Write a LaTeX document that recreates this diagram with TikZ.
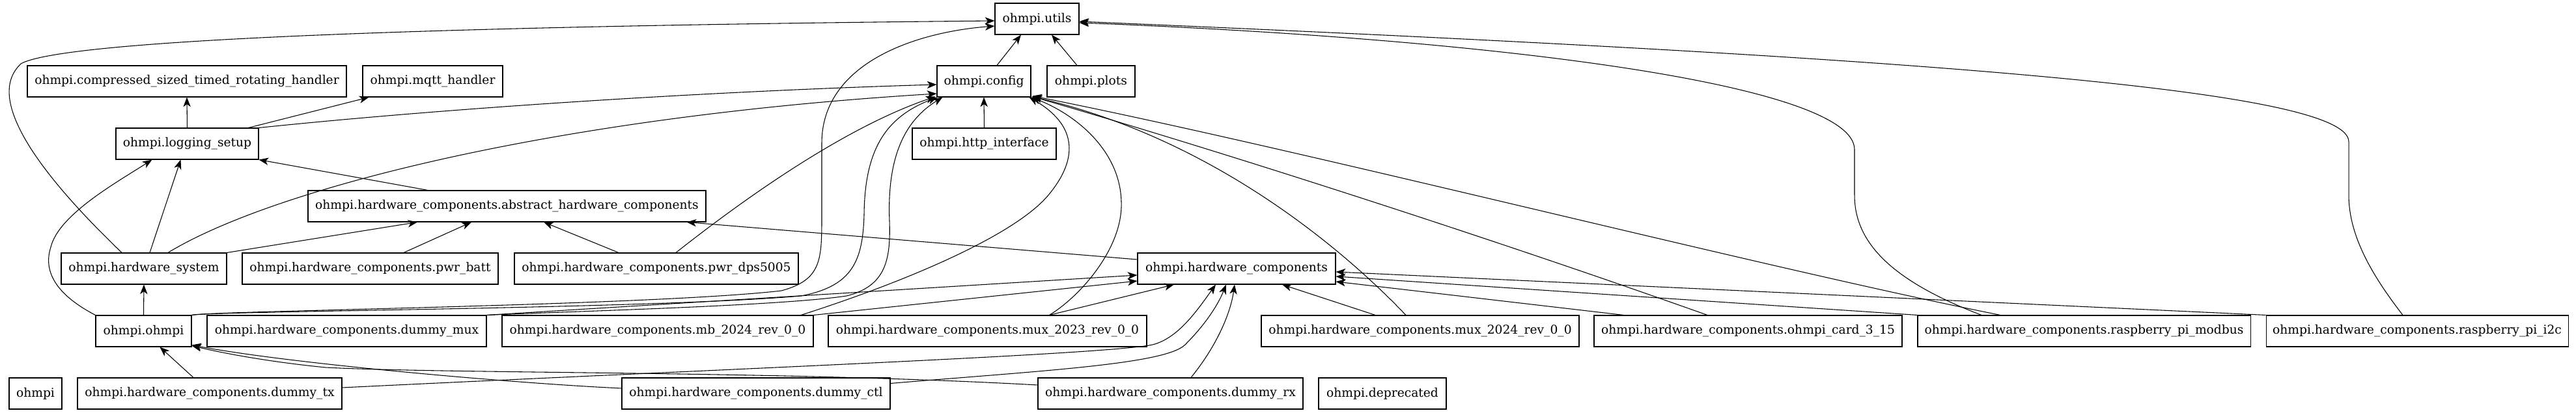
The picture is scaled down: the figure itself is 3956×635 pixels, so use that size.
\documentclass[tikz,border=0pt]{standalone}
\usepackage{fontspec}
\setmainfont{DejaVu Serif}
\usetikzlibrary{arrows.meta,calc}
\begin{document}
\begin{tikzpicture}[x=0.75pt,y=-0.75pt,
  box/.style={draw,line width=0.8pt,rectangle,minimum height=36pt,inner sep=0pt,font=\fontsize{14}{16}\selectfont},
  e/.style={line width=0.8pt,-{Stealth[length=11pt,width=8.5pt,inset=3pt]}}]
\useasboundingbox (0,0) rectangle (3956,635);
% row 0
\node[box,minimum width=96.75pt] (utils) at (1592.5,29) {ohmpi.utils};
% row 1
\node[box,minimum width=108pt] (cfg) at (1511,125) {ohmpi.config};
\node[box,minimum width=101.25pt] (plots) at (1675.5,125) {ohmpi.plots};
\node[box,minimum width=367.5pt] (csth) at (287,125) {ohmpi.compressed\_sized\_timed\_rotating\_handler};
\node[box,minimum width=161.25pt] (mqtt) at (664.5,125) {ohmpi.mqtt\_handler};
% row 2
\node[box,minimum width=164.25pt] (ls) at (287.5,221) {ohmpi.logging\_setup};
\node[box,minimum width=165.75pt] (http) at (1511.5,221) {ohmpi.http\_interface};
% row 3
\node[box,minimum width=458.25pt] (ahc) at (778.5,317) {ohmpi.hardware\_components.abstract\_hardware\_components};
% row 4
\node[box,minimum width=190.5pt] (hs) at (221,413) {ohmpi.hardware\_system};
\node[box,minimum width=294.75pt] (batt) at (568.5,413) {ohmpi.hardware\_components.pwr\_batt};
\node[box,minimum width=327pt] (dps) at (1008,413) {ohmpi.hardware\_components.pwr\_dps5005};
\node[box,minimum width=228pt] (hc) at (1899,413) {ohmpi.hardware\_components};
% row 5
\node[box,minimum width=110.25pt] (oo) at (220.5,509) {ohmpi.ohmpi};
\node[box,minimum width=321.75pt] (mux) at (532.5,509) {ohmpi.hardware\_components.dummy\_mux};
\node[box,minimum width=358.5pt] (mb) at (1010,509) {ohmpi.hardware\_components.mb\_2024\_rev\_0\_0};
\node[box,minimum width=366.75pt] (m23) at (1516.5,509) {ohmpi.hardware\_components.mux\_2023\_rev\_0\_0};
\node[box,minimum width=366pt] (m24) at (2181,509) {ohmpi.hardware\_components.mux\_2024\_rev\_0\_0};
\node[box,minimum width=354.75pt] (card) at (2684.5,509) {ohmpi.hardware\_components.ohmpi\_card\_3\_15};
\node[box,minimum width=383.25pt] (modbus) at (3200.5,509) {ohmpi.hardware\_components.raspberry\_pi\_modbus};
\node[box,minimum width=348pt] (i2c) at (3712,509) {ohmpi.hardware\_components.raspberry\_pi\_i2c};
% row 6
\node[box,minimum width=60.75pt] (om) at (54.5,605) {ohmpi};
\node[box,minimum width=304.5pt] (tx) at (322,605) {ohmpi.hardware\_components.dummy\_tx};
\node[box,minimum width=309pt] (ctl) at (1161,605) {ohmpi.hardware\_components.dummy\_ctl};
\node[box,minimum width=305.25pt] (rx) at (1797.5,605) {ohmpi.hardware\_components.dummy\_rx};
\node[box,minimum width=147pt] (dep) at (2123,605) {ohmpi.deprecated};

% edges
\draw[e] (ls.north) -- (csth.south);
\draw[e] ($(ls.north)+(94,0)$) -- ($(mqtt.south)+(-98,0)$);
\draw[e] (ls.north east) .. controls (700,165) and (1100,140) .. ($(cfg.west)+(0,5)$);
\draw[e] ($(hs.north)+(37,0)$) .. controls (420,290) and (850,180) .. ($(cfg.west)+(0,19)$);
\draw[e] ($(hs.north)+(-34,0)$) .. controls (-30,180) and (10,120) .. (32,98) .. controls (100,60) and (700,40) .. ($(utils.west)+(0,3)$);
\draw[e] (oo.north west) .. controls (90,455) and (65,420) .. (78,380) .. controls (90,330) and (180,280) .. ($(ls.south)+(-54,0)$);
\draw[e] ($(hs.north)+(9,0)$) -- ($(ls.south)+(-10,0)$);
\draw[e] ($(ahc.north)+(-121.5,0)$) -- (ls.south east);
\draw[e] (oo.north) -- (hs.south);
\draw[e] (hs.north east) -- ($(ahc.south)+(-137.5,0)$);
\draw[e] ($(batt.north)+(51.5,0)$) -- ($(ahc.south)+(-54.5,0)$);
\draw[e] ($(dps.north)+(-58,0)$) -- ($(ahc.south)+(56.5,0)$);
\draw[e] ($(hc.west)+(0,-14)$) -- ($(ahc.south east)+(-30,0)$);
\draw[e] ($(dps.north)+(30,0)$) .. controls (1150,300) and (1300,195) .. ($(cfg.south west)+(-2,-1)$);
\draw[e] (oo.north east) .. controls (320,478) and (1000,470) .. (1200,447) .. controls (1262,430) and (1262,400) .. (1262,330) -- (1262,220) .. controls (1262,100) and (1400,50) .. ($(utils.west)+(0,11)$);
\draw[e] (oo.north east) .. controls (330,478) and (1000,475) .. (1230,455) .. controls (1310,440) and (1325,400) .. (1327,330) .. controls (1328,230) and (1360,180) .. ($(cfg.south west)+(1,0)$);
\draw[e] (mux.north east) .. controls (900,478) and (1200,470) .. (1300,455) .. controls (1360,440) and (1368,400) .. (1366,340) .. controls (1362,240) and (1390,185) .. ($(cfg.south west)+(9,0)$);
\draw[e] (mux.north east) -- ($(hc.west)+(0,10)$);
\draw[e] (mb.north east) -- ($(hc.west)+(0,19)$);
\draw[e] ($(mb.north)+(220,0)$) .. controls (1400,430) and (1560,360) .. (1610,300) .. controls (1660,240) and (1650,190) .. ($(cfg.south east)+(-3,0)$);
\draw[e] ($(m23.north)+(95,0)$) .. controls (1660,455) and (1725,380) .. (1722,310) .. controls (1720,230) and (1650,175) .. (cfg.south east);
\draw[e] ($(m23.north)+(95,0)$) -- ($(hc.south)+(-96,0)$);
\draw[e] ($(m24.north)+(-22,0)$) .. controls (2050,370) and (1850,210) .. ($(cfg.south east)+(1,-1)$);
\draw[e] ($(m24.north)+(-69,0)$) -- ($(hc.south)+(70,0)$);
\draw[e] ($(card.north)+(-62.5,0)$) .. controls (2300,370) and (1900,240) .. ($(cfg.south east)+(2,-1)$);
\draw[e] ($(card.north west)+(46,0)$) -- ($(hc.east)+(0,20)$);
\draw[e] (modbus.north west) -- ($(hc.east)+(0,12)$);
\draw[e] (i2c.north west) -- ($(hc.east)+(0,5)$);
\draw[e] ($(modbus.north)+(-128.5,0)$) .. controls (2700,410) and (2000,230) .. ($(cfg.south east)+(2,-2)$);
\draw[e] ($(modbus.north)+(-157.5,0)$) .. controls (2900,430) and (2848,370) .. (2848,300) -- (2848,230) .. controls (2848,130) and (2300,60) .. ($(utils.east)+(0,6)$);
\draw[e] ($(i2c.north)+(-22,0)$) .. controls (3640,420) and (3607,360) .. (3607,300) -- (3607,218) .. controls (3607,140) and (3000,90) .. ($(utils.east)+(0,4)$);
\draw[e] ($(cfg.north)+(20,0)$) -- ($(utils.south)+(-24.5,0)$);
\draw[e] ($(plots.north)+(-21.5,0)$) -- ($(utils.south)+(22.5,0)$);
\draw[e] (http.north) -- (cfg.south);
\draw[e] ($(tx.north)+(-25,0)$) -- ($(oo.south)+(25,0)$);
\draw[e] ($(tx.east)+(0,-9)$) .. controls (1100,568) and (1700,545) .. (1770,530) .. controls (1810,520) and (1840,475) .. ($(hc.south)+(-32,0)$);
\draw[e] ($(ctl.west)+(0,-8)$) .. controls (800,590) and (450,560) .. ($(oo.south east)+(0,-3)$);
\draw[e] ($(ctl.north east)+(0,9)$) .. controls (1600,570) and (1790,560) .. (1820,530) .. controls (1850,500) and (1870,470) .. ($(hc.south)+(-16,0)$);
\draw[e] ($(rx.west)+(0,-13)$) .. controls (1200,570) and (700,575) .. (500,565) .. controls (400,555) and (330,540) .. ($(oo.south east)+(0,-2)$);
\draw[e] ($(rx.north)+(31.5,0)$) .. controls (1870,530) and (1890,480) .. ($(hc.south)+(-3,0)$);
\end{tikzpicture}
\end{document}
